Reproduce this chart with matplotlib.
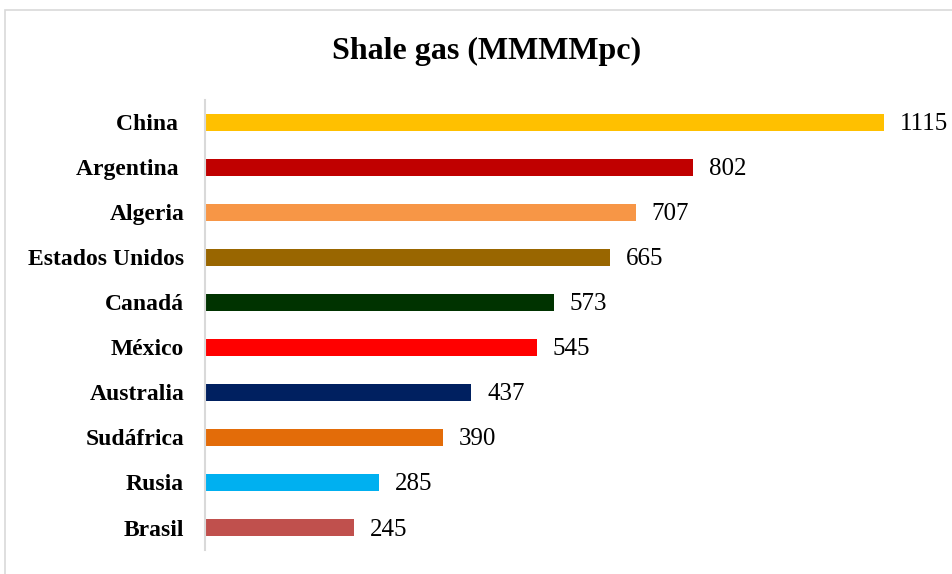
import matplotlib
matplotlib.use("Agg")
import matplotlib.pyplot as plt
from matplotlib.patches import Rectangle

categories = ["China ", "Argentina ", "Algeria", "Estados Unidos", "Canadá", "México",
              "Australia", "Sudáfrica", "Rusia", "Brasil"]
values = [1115, 802, 707, 665, 573, 545, 437, 390, 285, 245]
colors = ["#FFC000", "#C00000", "#F79646", "#996600", "#003300", "#FF0000",
          "#002060", "#E36C09", "#00B0F0", "#C0504D"]
title = "Shale gas (MMMMpc)"

plt.rcParams['font.family'] = ['Liberation Serif', 'DejaVu Serif']

W, H = 953, 574
fig = plt.figure(figsize=(W/100, H/100), dpi=100)

# outer chart border (partially visible)
fig.patches.append(Rectangle((5/W, -0.1), 1.2, (H - 10)/H + 0.1, transform=fig.transFigure,
                             fill=False, edgecolor="#D9D9D9", linewidth=1.2))

ax_l, ax_r = 205, 940
ax_t, ax_b = 100, 550
ax = fig.add_axes([ax_l/W, (H-ax_b)/H, (ax_r-ax_l)/W, (ax_b-ax_t)/H])

y = list(range(len(categories)))
ax.barh(y, values, height=0.36, color=colors)
ax.set_ylim(len(categories) - 0.5, -0.5)
ax.set_xlim(0, (ax_r - ax_l) / 0.609)

for yi, v in zip(y, values):
    ax.annotate(str(v), (v, yi), xytext=(16, -2), textcoords="offset pixels",
                va="center", ha="left", fontsize=18, color="#000000")

ax.set_yticks(y)
ax.set_yticklabels(categories, fontsize=17, fontweight="bold")
ax.tick_params(axis="y", length=0, pad=15)
ax.set_xticks([])
for s in ["top", "right", "bottom"]:
    ax.spines[s].set_visible(False)
ax.spines["left"].set_color("#D9D9D9")
ax.spines["left"].set_linewidth(1.5)

fig.text(487/W, 1 - 51/H, title, ha="center", va="center", fontsize=23, fontweight="bold")

fig.savefig("out.png", dpi=100)
